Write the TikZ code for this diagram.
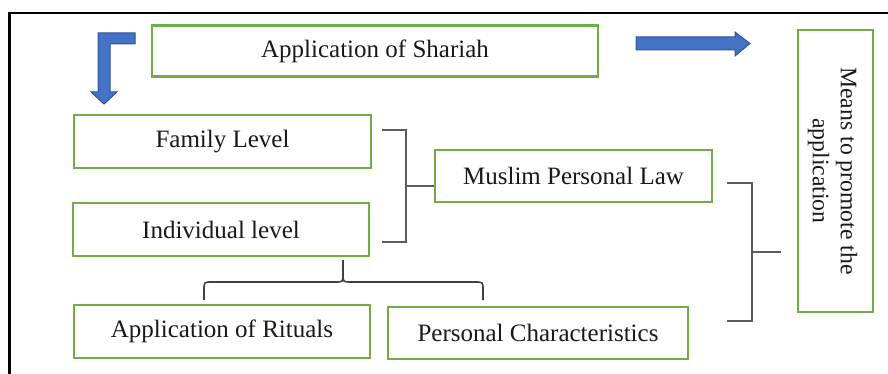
\documentclass[tikz,border=0pt]{standalone}
\usepackage{fontspec}
\setmainfont{Liberation Serif}
\definecolor{boxgreen}{HTML}{70AD47}
\definecolor{arrowblue}{HTML}{4472C4}
\definecolor{arrowedge}{HTML}{2F5597}
\definecolor{brgray}{HTML}{5A5A5A}
\begin{document}
\begin{tikzpicture}[x=1pt,y=-1pt,
  gbox/.style={draw=boxgreen, line width=2.8pt, fill=white, inner sep=0pt,
    font=\fontsize{25}{30}\selectfont, text=black!90},
  blockarrow/.style={fill=arrowblue, draw=arrowedge, line width=1pt, line join=miter},
  bracketline/.style={draw=brgray, line width=1.6pt},
  framecol/.style={draw=black, line width=2.6pt}]
\useasboundingbox (0,0) rectangle (888,374);
% frame
\draw[framecol] (9.5,374) -- (9.5,13) -- (888,13);
% boxes
\node[gbox, minimum width=446pt, minimum height=51pt] (shariah) at (375,51) {Application of Shariah};
\node[gbox, minimum width=297pt, minimum height=53pt] (family) at (222.5,141.5) {Family Level};
\node[gbox, minimum width=296pt, minimum height=53pt] (indiv) at (221,229.5) {Individual level};
\node[gbox, minimum width=277pt, minimum height=52pt] (mpl) at (573.5,176) {Muslim Personal Law};
\node[gbox, minimum width=296pt, minimum height=53pt] (rituals) at (222,331.5) {Application of Rituals};
\node[gbox, minimum width=300pt, minimum height=52pt] (personal) at (538,333) {Personal Characteristics};
\node[gbox, minimum width=75pt, minimum height=282pt] (means) at (835.5,171) {};
\node[font=\fontsize{23.7}{28}\selectfont, text=black!90, rotate=-90, align=center, inner sep=0pt] (meanstext) at ([xshift=-3pt]means.center) {Means to promote the\\application};
% bent arrow
\draw[blockarrow] (98,33) -- (135,33) -- (135,44) -- (110,44) -- (110,92) -- (117,92) -- (104,104) -- (91,92) -- (98,92) -- cycle;
% right arrow
\draw[blockarrow] (636,37) -- (735,37) -- (735,32) -- (750,43.5) -- (735,56) -- (735,50) -- (636,50) -- cycle;
% bracket 1
\coordinate (b1t) at (382,130);
\coordinate (b1b) at (382,242);
\coordinate (b1m) at (406,186);
\draw[bracketline] (b1t) -- (b1t -| b1m) -- (b1b -| b1m) -- (b1b);
\draw[bracketline] (b1m) -- (b1m -| mpl.west);
% bracket 2
\coordinate (b2t) at (727,183);
\coordinate (b2b) at (727,321);
\coordinate (b2m) at (752,252);
\coordinate (b2e) at (781,252);
\draw[bracketline] (b2t) -- (b2t -| b2m) -- (b2b -| b2m) -- (b2b);
\draw[bracketline] (b2m) -- (b2e);
% brace
\coordinate (brl) at (204,300);
\coordinate (brr) at (483,300);
\coordinate (brtip) at (343,260);
\draw[bracketline, draw=black!75] (brl) -- (204,290) .. controls (204,282) .. (212,282) -- (335,282) .. controls (343,282) .. (343,274) -- (brtip)
  -- (343,274) .. controls (343,282) .. (351,282) -- (475,282) .. controls (483,282) .. (483,290) -- (brr);
\end{tikzpicture}
\end{document}
